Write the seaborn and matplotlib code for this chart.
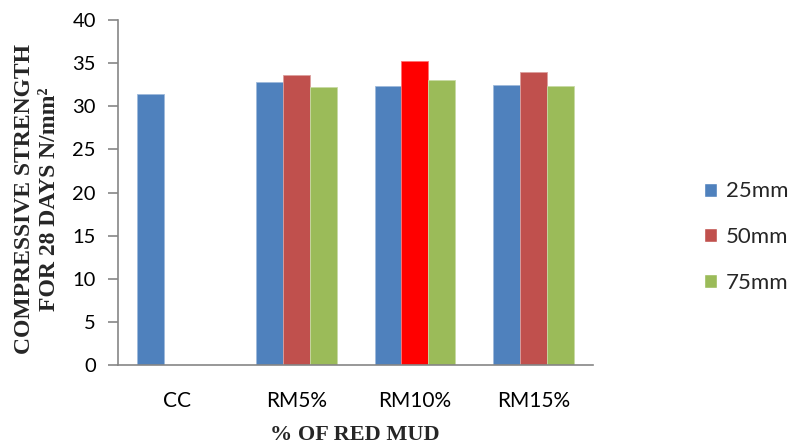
import numpy as np
import pandas as pd
import matplotlib
matplotlib.use("Agg")
import matplotlib.pyplot as plt
import matplotlib.colors as mcolors
import seaborn as sns

# Compressive strength (N/mm²) at 28 days, by red-mud replacement and specimen size
mixes = ["CC", "RM5%", "RM10%", "RM15%"]
sizes = ["25mm", "50mm", "75mm"]
strength_25mm = [31.4, 32.8, 32.4, 32.5]
strength_50mm = [np.nan, 33.6, 35.3, 34.0]
strength_75mm = [np.nan, 32.2, 33.0, 32.4]
yticks = [0, 5, 10, 15, 20, 25, 30, 35, 40]

palette = ["#4F81BD", "#C0504D", "#9BBB59"]
highlight_mix, highlight_size, highlight_color = "RM10%", "50mm", "#FF0000"

df = pd.DataFrame({
    "mix": mixes * 3,
    "size": [s for s in sizes for _ in mixes],
    "strength": strength_25mm + strength_50mm + strength_75mm,
})

sns.set_style("white")
sans = ["Lato", "DejaVu Sans"]
serif = ["Liberation Serif", "DejaVu Serif"]

fig = plt.figure(figsize=(7.93, 4.47), dpi=100)
ax = fig.add_axes([118 / 793, 1 - 365 / 447, 475 / 793, 345 / 447])

sns.barplot(data=df, x="mix", y="strength", hue="size", order=mixes,
            hue_order=sizes, palette=palette, saturation=1, width=0.68,
            errorbar=None, ax=ax)

# Highlight the peak bar and give every bar a faint light rim
hl_value = df.loc[(df["mix"] == highlight_mix) & (df["size"] == highlight_size), "strength"].iloc[0]
hl_index = mixes.index(highlight_mix)
for p in ax.patches:
    if not hasattr(p, "get_height") or p.get_width() == 0:
        continue
    cx = p.get_x() + p.get_width() / 2
    if round(cx) == hl_index and np.isclose(p.get_height(), hl_value):
        p.set_facecolor(highlight_color)
    fc = np.array(mcolors.to_rgb(p.get_facecolor()))
    p.set_edgecolor(tuple(fc + (1 - fc) * 0.45))
    p.set_linewidth(0.6)

ax.set_ylim(0, 40)
ax.set_yticks(yticks)
ax.set_xlim(-0.5, len(mixes) - 0.5)
ax.set_xlabel("")
ax.set_ylabel("")

axis_gray = "#868686"
for side in ["top", "right"]:
    ax.spines[side].set_visible(False)
for side in ["left", "bottom"]:
    ax.spines[side].set_color(axis_gray)
    ax.spines[side].set_linewidth(1.2)

ax.tick_params(axis="y", which="major", left=True, length=7, width=1.2,
               color=axis_gray, pad=9, labelsize=14.5)
ax.tick_params(axis="x", which="major", bottom=False, length=0, pad=19, labelsize=15)
for lab in ax.get_xticklabels() + ax.get_yticklabels():
    lab.set_fontfamily(sans)
    lab.set_color("black")

fig.text(355 / 793, 1 - 435 / 447, "% OF RED MUD", ha="center", va="center",
         fontsize=16, fontweight="bold", family=serif)
fig.text(37.5 / 793, 1 - 199 / 447, "COMPRESSIVE STRENGTH\nFOR 28 DAYS N/mm²",
         ha="center", va="center", rotation=90, fontsize=17, fontweight="bold",
         family=serif, linespacing=1.25, multialignment="center")

sns.move_legend(ax, "center left", bbox_to_anchor=(704 / 793, 1 - 237 / 447),
                bbox_transform=fig.transFigure, frameon=False, title=None,
                borderaxespad=0, borderpad=0, labelspacing=1.15,
                handlelength=0.6, handleheight=0.6, handletextpad=0.4,
                prop={"family": sans, "size": 16})

fig.savefig("out.png", dpi=100)
